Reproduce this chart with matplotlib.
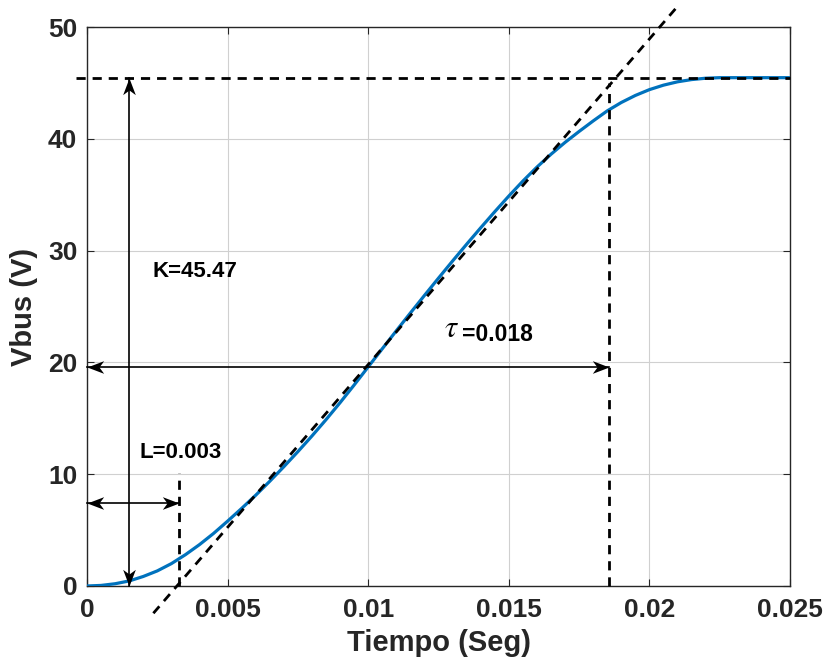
import matplotlib
matplotlib.use("Agg")
import matplotlib.pyplot as plt
from matplotlib.path import Path
from matplotlib.markers import MarkerStyle
from matplotlib.transforms import Affine2D

# Step response of the bus voltage
t = [0.0, 0.0005, 0.001, 0.0015, 0.002, 0.0025, 0.003, 0.0035, 0.004, 0.0045,
     0.005, 0.0055, 0.006, 0.0065, 0.007, 0.0075, 0.008, 0.0085, 0.009, 0.0095,
     0.01, 0.0105, 0.011, 0.0115, 0.012, 0.0125, 0.013, 0.0135, 0.014, 0.0145,
     0.015, 0.0155, 0.016, 0.0165, 0.017, 0.0175, 0.018, 0.0185, 0.019, 0.0195,
     0.02, 0.0205, 0.021, 0.0215, 0.022, 0.0225, 0.023, 0.024, 0.025]
vbus = [0.0, 0.05, 0.2, 0.45, 0.85, 1.35, 2.0, 2.8, 3.7, 4.7,
        5.8, 6.94, 8.12, 9.37, 10.67, 12.02, 13.42, 14.88, 16.4, 17.98,
        19.6, 21.22, 22.83, 24.42, 25.99, 27.54, 29.07, 30.57, 32.04, 33.48,
        34.88, 36.22, 37.47, 38.62, 39.68, 40.66, 41.6, 42.5, 43.25, 43.88,
        44.4, 44.8, 45.1, 45.3, 45.42, 45.47, 45.47, 45.47, 45.47]

# Identification parameters
K = 45.47
L_mark = 0.00327          # where the tangent meets 0 V
tau_end = 0.01856         # where the tangent meets K
tangent_x = [0.00236, 0.02097]
tangent_y = [-2.44, 51.76]

xticks = [0, 0.005, 0.01, 0.015, 0.02, 0.025]
xtick_labels = ["0", "0.005", "0.01", "0.015", "0.02", "0.025"]
yticks = [0, 10, 20, 30, 40, 50]

plt.rcParams["font.family"] = ["Liberation Sans", "DejaVu Sans"]
plt.rcParams["mathtext.fontset"] = "stix"

fig = plt.figure(figsize=(8.27, 6.64), dpi=100)
ax = fig.add_axes([0.1052, 0.1175, 0.8501, 0.8418])

dark = "#262626"
blue = "#0072BD"

ax.plot(t, vbus, color=blue, lw=2.3, zorder=3, solid_capstyle="butt")

dash = (0, (3.3, 2.5))
dkw = dict(color="black", lw=2.0, linestyle=dash, zorder=4, clip_on=False)
ax.plot([-0.00039, 0.025], [K, K], **dkw)
ax.plot(tangent_x, tangent_y, **dkw)
ax.plot([L_mark, L_mark], [0, 10.1], **dkw)
ax.plot([tau_end, tau_end], [0, 45.0], **dkw)

# Notched arrow head, tip at the origin, pointing along +x
head = Path([(0, 0), (-1, 0.38), (-0.72, 0), (-1, -0.38), (0, 0)],
            [Path.MOVETO, Path.LINETO, Path.LINETO, Path.LINETO, Path.CLOSEPOLY])


def head_marker(angle):
    return MarkerStyle(head, transform=Affine2D().rotate_deg(angle))


def double_arrow(x0, y0, x1, y1, horizontal):
    ax.plot([x0, x1], [y0, y1], color="black", lw=1.2, zorder=5, clip_on=False)
    a_end = 0 if horizontal else 90
    ax.plot([x1], [y1], marker=head_marker(a_end), ms=24, color="black",
            mew=0, zorder=6, clip_on=False)
    ax.plot([x0], [y0], marker=head_marker(a_end + 180), ms=24, color="black",
            mew=0, zorder=6, clip_on=False)


double_arrow(0.0015, 0, 0.0015, K, horizontal=False)
double_arrow(0, 7.45, L_mark, 7.45, horizontal=True)
double_arrow(0, 19.6, tau_end, 19.6, horizontal=True)

tkw = dict(fontsize=16, fontweight="bold", color="black", va="center", ha="left", zorder=7)
ax.text(0.00233, 28.1, "K=45.47", **tkw)
ax.text(0.00185, 11.9, "L=0.003", **tkw)
ax.text(0.01332, 22.5, "=0.018", fontsize=16.5, fontweight="bold", color="black",
        va="center", ha="left", zorder=7)
ax.text(0.01270, 23.0, r"$\tau$", fontsize=22, color="black", va="center", ha="left", zorder=7)

ax.set_xlim(0, 0.025)
ax.set_ylim(0, 50)
ax.set_xticks(xticks)
ax.set_xticklabels(xtick_labels)
ax.set_yticks(yticks)
ax.grid(True, color="#d0d0d0", lw=0.8)
ax.set_axisbelow(True)

ax.tick_params(direction="in", length=5, width=0.8, top=True, right=True,
               colors=dark, labelsize=19)
ax.tick_params(axis="x", pad=9)
ax.tick_params(axis="y", pad=7)
for lab in ax.get_xticklabels() + ax.get_yticklabels():
    lab.set_fontweight("bold")
for sp in ax.spines.values():
    sp.set_color(dark)
    sp.set_linewidth(1.0)

ax.set_xlabel("Tiempo (Seg)", fontsize=21, fontweight="bold", color=dark, labelpad=5)
ax.set_ylabel("Vbus (V)", fontsize=21, fontweight="bold", color=dark, labelpad=7)

fig.savefig("out.png", dpi=100)
